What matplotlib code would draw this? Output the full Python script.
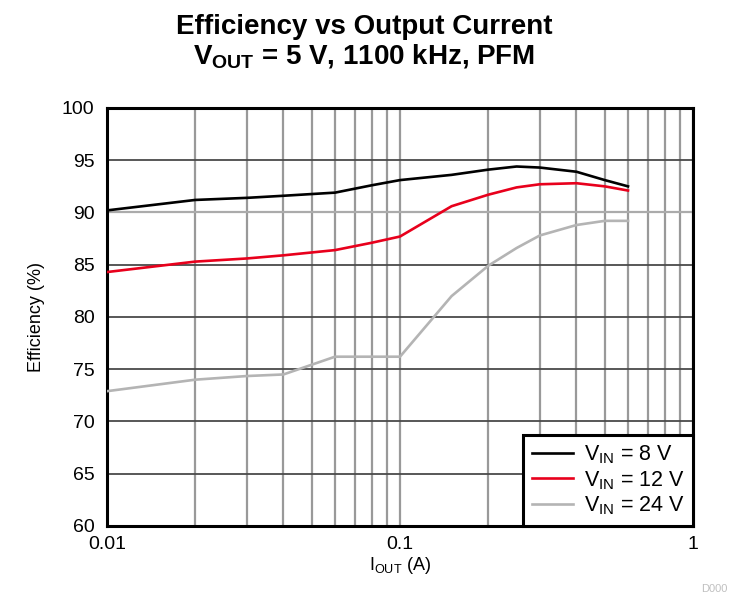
import matplotlib.pyplot as plt
from matplotlib.ticker import LogLocator, NullFormatter, FixedLocator

# ----------------------------
# Data
# ----------------------------
i_out = [0.01, 0.02, 0.03, 0.04, 0.06, 0.08, 0.1, 0.15, 0.2, 0.25, 0.3, 0.4, 0.5, 0.6]
eff_vin8 = [90.2, 91.2, 91.4, 91.6, 91.9, 92.6, 93.1, 93.6, 94.1, 94.4, 94.3, 93.9, 93.1, 92.5]
eff_vin12 = [84.3, 85.3, 85.6, 85.9, 86.4, 87.1, 87.7, 90.6, 91.7, 92.4, 92.7, 92.8, 92.5, 92.1]
eff_vin24 = [72.9, 74.0, 74.35, 74.5, 76.2, 76.2, 76.2, 82.0, 84.9, 86.6, 87.8, 88.8, 89.2, 89.2]

series_labels = [r'V$_{\mathregular{IN}}$ = 8 V', r'V$_{\mathregular{IN}}$ = 12 V', r'V$_{\mathregular{IN}}$ = 24 V']
series_colors = ['#000000', '#e8001c', '#b4b4b4']

y_ticks = [60, 65, 70, 75, 80, 85, 90, 95, 100]
x_ticks = [0.01, 0.1, 1]
x_tick_labels = ['0.01', '0.1', '1']

# ----------------------------
# Fonts
# ----------------------------
plt.rcParams['font.family'] = ['Liberation Sans', 'DejaVu Sans']
plt.rcParams['mathtext.default'] = 'regular'

# ----------------------------
# Plot
# ----------------------------
fig = plt.figure(figsize=(7.29, 5.93), dpi=100)
ax = fig.add_axes([0.1468, 0.1130, 0.8038, 0.7049])

ax.set_xscale('log')
ax.set_xlim(0.01, 1)
ax.set_ylim(60, 100)

# grid: grey verticals (major + minor), darker horizontals
ax.xaxis.set_major_locator(FixedLocator(x_ticks))
ax.xaxis.set_minor_locator(LogLocator(base=10, subs=range(2, 10)))
ax.xaxis.set_minor_formatter(NullFormatter())
ax.set_xticks(x_ticks)
ax.set_xticklabels(x_tick_labels)
ax.set_yticks(y_ticks)

ax.grid(True, which='both', axis='x', color='#999999', linewidth=1.6)
ax.grid(True, which='major', axis='y', color='#4a4a4a', linewidth=1.3)
ax.axhline(90, color='#ababab', linewidth=1.6, zorder=1.5)
ax.set_axisbelow(True)

for y, lab, col in zip([eff_vin8, eff_vin12, eff_vin24], series_labels, series_colors):
    ax.plot(i_out, y, color=col, linewidth=1.9, label=lab, zorder=3)

ax.tick_params(which='both', length=0, labelsize=14, pad=7)
ax.tick_params(axis='y', pad=9)

for sp in ax.spines.values():
    sp.set_linewidth(2.2)
    sp.set_color('black')

ax.set_xlabel(r'I$_{\mathregular{OUT}}$ (A)', fontsize=13, labelpad=2)
ax.set_ylabel('Efficiency (%)', fontsize=13, labelpad=12)

leg = ax.legend(loc='lower right', borderaxespad=0, fontsize=15.5, handlelength=1.9,
                labelspacing=0.15, handletextpad=0.5, borderpad=0.4, fancybox=False,
                framealpha=1, edgecolor='black')
leg.get_frame().set_linewidth(2.2)
leg.set_zorder(5)

# ----------------------------
# Titles and figure id
# ----------------------------
fig.text(0.5, 1 - 34 / 593, 'Efficiency vs Output Current', ha='center', va='baseline',
         fontsize=20, fontweight='bold')
fig.text(0.5, 1 - 63 / 593, r'V$_{\mathregular{OUT}}$ = 5 V, 1100 kHz, PFM', ha='center',
         va='baseline', fontsize=20, fontweight='bold')
fig.text(727 / 729, 1 - 589 / 593, 'D000', ha='right', va='center', fontsize=8, color='#c0c0c0')

fig.savefig('out.png', dpi=100)
